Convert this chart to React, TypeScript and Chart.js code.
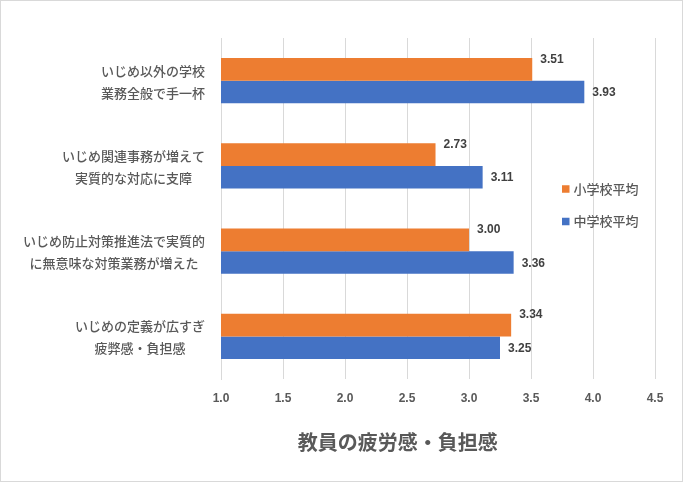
import React, { useEffect, useRef } from "react";
import { Chart, registerables } from "chart.js";

Chart.register(...registerables);

// ---- data ----
const categories: string[][] = [
  ["いじめ以外の学校", "業務全般で手一杯"],
  ["いじめ関連事務が増えて", "実質的な対応に支障"],
  ["いじめ防止対策推進法で実質的", "に無意味な対策業務が増えた"],
  ["いじめの定義が広すぎ", "疲弊感・負担感"],
];
const seriesNames = ["小学校平均", "中学校平均"];
const elementaryValues = [3.51, 2.73, 3.0, 3.34];
const juniorHighValues = [3.93, 3.11, 3.36, 3.25];
const xMin = 1.0;
const xMax = 4.5;
const xStep = 0.5;
const chartTitle = "教員の疲労感・負担感";

const seriesColors = ["#ED7D31", "#4472C4"];
const textGray = "#595959";
const jpFont = '"Noto Sans CJK JP", "Noto Sans", sans-serif';
const numFont = '"Liberation Sans", Arial, sans-serif';

const categoryLabelPlugin = {
  id: "categoryLabels",
  afterDraw(chart: any) {
    const ctx = chart.ctx;
    const yScale = chart.scales.y;
    ctx.save();
    ctx.font = `500 13px ${jpFont}`;
    ctx.fillStyle = textGray;
    ctx.textAlign = "center";
    ctx.textBaseline = "middle";
    const labels = chart.data.labels as string[][];
    labels.forEach((lines, i) => {
      const cy = yScale.getPixelForValue(i);
      const widths = lines.map((l) => ctx.measureText(l).width);
      const blockW = Math.max(...widths);
      const right = yScale.right - 16;
      const cx = right - blockW / 2;
      const lh = 22;
      const startY = cy + 1 - ((lines.length - 1) * lh) / 2;
      lines.forEach((l, j) => ctx.fillText(l, cx, startY + j * lh));
    });
    ctx.restore();
  },
};

const valueLabelPlugin = {
  id: "valueLabels",
  afterDatasetsDraw(chart: any) {
    const ctx = chart.ctx;
    ctx.save();
    ctx.font = `bold 12px ${numFont}`;
    ctx.fillStyle = "#404040";
    ctx.textAlign = "left";
    ctx.textBaseline = "middle";
    chart.data.datasets.forEach((ds: any, di: number) => {
      const meta = chart.getDatasetMeta(di);
      meta.data.forEach((bar: any, i: number) => {
        const v = ds.data[i] as number;
        const dy = di === 0 ? -10 : 1;
        ctx.fillText(v.toFixed(2), bar.x + 8, bar.y + dy);
      });
    });
    ctx.restore();
  },
};

const legendPlugin = {
  id: "customLegend",
  afterDraw(chart: any) {
    const ctx = chart.ctx;
    const area = chart.chartArea;
    const x0 = area.right - 93;
    const y0 = area.top + 151;
    ctx.save();
    ctx.font = `500 13px ${jpFont}`;
    ctx.textAlign = "left";
    ctx.textBaseline = "middle";
    chart.data.datasets.forEach((ds: any, i: number) => {
      const cy = y0 + i * 32.5;
      ctx.fillStyle = ds.backgroundColor;
      ctx.fillRect(x0, cy - 3.75, 7.5, 7.5);
      ctx.fillStyle = textGray;
      ctx.fillText(ds.label, x0 + 11.5, cy);
    });
    ctx.restore();
  },
};

const titlePlugin = {
  id: "bottomTitle",
  afterDraw(chart: any) {
    const ctx = chart.ctx;
    ctx.save();
    ctx.font = `bold 20px ${jpFont}`;
    ctx.fillStyle = textGray;
    ctx.textAlign = "center";
    ctx.textBaseline = "middle";
    ctx.fillText(chartTitle, chart.width * 0.5825, chart.chartArea.bottom + 63);
    ctx.restore();
  },
};

export default function App() {
  const canvasRef = useRef<HTMLCanvasElement | null>(null);

  useEffect(() => {
    document.body.style.margin = "0";
    const canvas = canvasRef.current;
    if (!canvas) return;
    const chart = new Chart(canvas, {
      type: "bar",
      data: {
        labels: categories as any,
        datasets: [
          {
            label: seriesNames[0],
            data: elementaryValues,
            backgroundColor: seriesColors[0],
            categoryPercentage: 0.53,
            barPercentage: 1.0,
          },
          {
            label: seriesNames[1],
            data: juniorHighValues,
            backgroundColor: seriesColors[1],
            categoryPercentage: 0.53,
            barPercentage: 1.0,
          },
        ],
      },
      options: {
        indexAxis: "y",
        animation: false,
        responsive: false,
        maintainAspectRatio: false,
        devicePixelRatio: 1,
        layout: { padding: { left: 0, right: 27, top: 37, bottom: 0 } },
        scales: {
          x: {
            type: "linear",
            min: xMin,
            max: xMax,
            ticks: {
              stepSize: xStep,
              color: textGray,
              font: { family: numFont, size: 12, weight: "bold" },
              padding: 12,
              callback: (v: any) => Number(v).toFixed(1),
            },
            grid: { color: "#D9D9D9", drawTicks: false, lineWidth: 1 },
            border: { display: false },
            afterFit: (scale: any) => {
              scale.height = 482 - 379 - 1;
            },
          },
          y: {
            type: "category",
            ticks: { display: false },
            grid: { display: false, drawTicks: false },
            border: { display: true, color: "#D9D9D9" },
            afterFit: (scale: any) => {
              scale.width = 220;
            },
          },
        },
        plugins: {
          legend: { display: false },
          title: { display: false },
          tooltip: { enabled: false },
        },
      } as any,
      plugins: [categoryLabelPlugin, valueLabelPlugin, legendPlugin, titlePlugin],
    });
    return () => chart.destroy();
  }, []);

  return (
    <div
      style={{
        position: "absolute",
        left: 0,
        top: 0,
        width: 683,
        height: 482,
        boxSizing: "border-box",
        border: "1px solid #D9D9D9",
        background: "#fff",
      }}
    >
      <canvas
        ref={canvasRef}
        width={681}
        height={480}
        style={{ display: "block", width: 681, height: 480 }}
      />
    </div>
  );
}
